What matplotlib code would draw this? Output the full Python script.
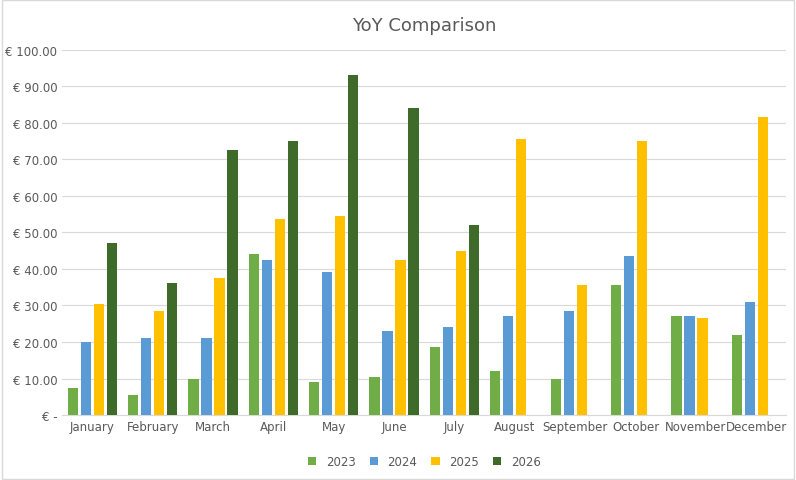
import numpy as np
import matplotlib.pyplot as plt
from matplotlib.patches import Rectangle

months = ['January', 'February', 'March', 'April', 'May', 'June', 'July',
          'August', 'September', 'October', 'November', 'December']
nan = np.nan
v2023 = [7.5, 5.5, 10, 44, 9, 10.5, 18.5, 12, 10, 35.5, 27, 22]
v2024 = [20, 21, 21, 42.5, 39, 23, 24, 27, 28.5, 43.5, 27, 31]
v2025 = [30.5, 28.5, 37.5, 53.5, 54.5, 42.5, 45, 75.5, 35.5, 75, 26.5, 81.5]
v2026 = [47, 36, 72.5, 75, 93, 84, 52, nan, nan, nan, nan, nan]

series = [('2023', v2023, '#70AD47'), ('2024', v2024, '#5B9BD5'),
          ('2025', v2025, '#FFC000'), ('2026', v2026, '#3E6B2A')]

fig = plt.figure(figsize=(7.96, 4.81), dpi=100)
fig.patches.append(Rectangle((0.003, 0.003), 0.994, 0.994, transform=fig.transFigure,
                             fill=False, edgecolor='#D9D9D9', linewidth=1))
ax = fig.add_axes([0.078, 0.135, 0.91, 0.76])

x = np.arange(len(months))
w = 0.17
for i, (name, vals, col) in enumerate(series):
    ax.bar(x + (i - 1.5) * 0.215, vals, w, color=col, label=name, zorder=3)

ax.set_xlim(-0.5, 11.5)
ax.set_ylim(0, 100)
ax.set_yticks(np.arange(0, 101, 10))
ax.set_yticklabels(['€ -'] + ['€ %.2f' % v for v in range(10, 101, 10)])
ax.set_xticks(x)
ax.set_xticklabels(months)
ax.grid(axis='y', color='#D9D9D9', linewidth=0.8, zorder=0)
for s in ['top', 'right', 'left']:
    ax.spines[s].set_visible(False)
ax.spines['bottom'].set_color('#D9D9D9')
ax.tick_params(length=0, labelsize=8.5, colors='#595959')
ax.set_title('YoY Comparison', fontsize=13, color='#595959', pad=14)
ax.legend(loc='upper center', bbox_to_anchor=(0.5, -0.08), ncol=4, frameon=False,
          fontsize=8.5, handlelength=0.7, handleheight=0.7, columnspacing=1.2,
          labelcolor='#595959')
fig.savefig('out.png')
